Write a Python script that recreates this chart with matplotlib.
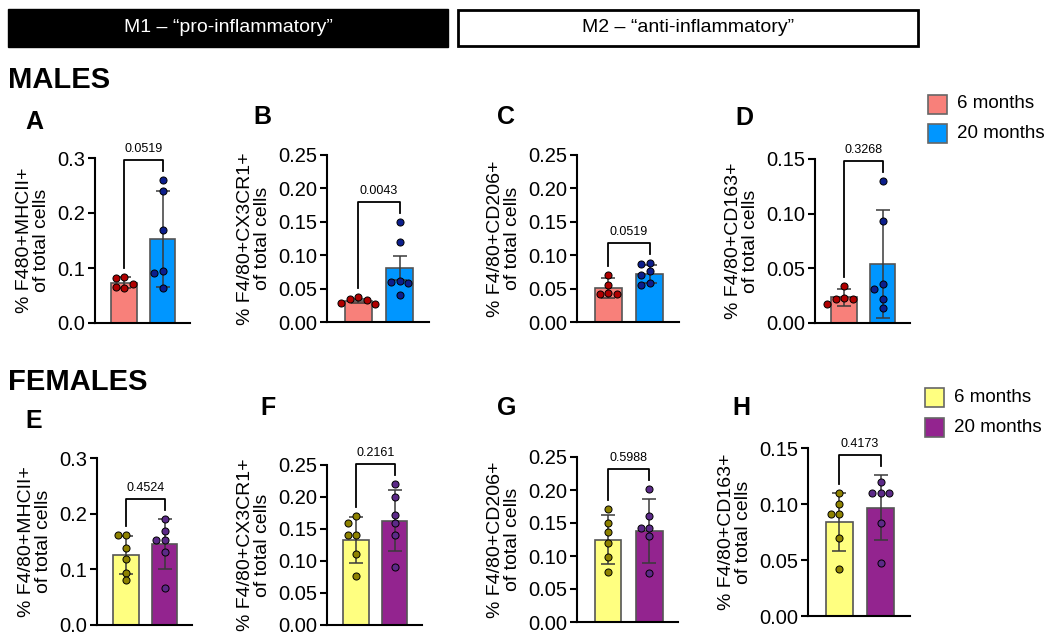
import numpy as np
import matplotlib
matplotlib.use('Agg')
import matplotlib.pyplot as plt
from matplotlib.patches import Rectangle

plt.rcParams['font.family'] = ['Liberation Sans', 'DejaVu Sans']

# datos (A-D machos, E-H hembras)
letras = ['A', 'B', 'C', 'D', 'E', 'F', 'G', 'H']
etiquetas_y = [
    '% F480+MHCII+\nof total cells',
    '% F4/80+CX3CR1+\nof total cells',
    '% F4/80+CD206+\nof total cells',
    '% F4/80+CD163+\nof total cells',
    '% F4/80+MHCII+\nof total cells',
    '% F4/80+CX3CR1+\nof total cells',
    '% F4/80+CD206+\nof total cells',
    '% F4/80+CD163+\nof total cells',
]
y_max = [0.3, 0.25, 0.25, 0.15, 0.3, 0.25, 0.25, 0.15]
y_paso = [0.1, 0.05, 0.05, 0.05, 0.1, 0.05, 0.05, 0.05]
p_valores = ['0.0519', '0.0043', '0.0519', '0.3268', '0.4524', '0.2161', '0.5988', '0.4173']

puntos_6m = [
    [0.083, 0.081, 0.071, 0.064, 0.066],
    [0.038, 0.034, 0.033, 0.029, 0.027],
    [0.070, 0.056, 0.043, 0.042, 0.042],
    [0.034, 0.023, 0.022, 0.022, 0.017],
    [0.161, 0.161, 0.138, 0.118, 0.094, 0.080],
    [0.170, 0.160, 0.141, 0.141, 0.111, 0.076],
    [0.171, 0.150, 0.136, 0.120, 0.098, 0.076],
    [0.110, 0.100, 0.091, 0.091, 0.070, 0.042],
]
puntos_20m = [
    [0.260, 0.240, 0.170, 0.095, 0.091, 0.064],
    [0.150, 0.120, 0.061, 0.060, 0.058, 0.041],
    [0.089, 0.087, 0.076, 0.070, 0.059, 0.056],
    [0.130, 0.093, 0.036, 0.031, 0.022, 0.014],
    [0.190, 0.168, 0.152, 0.152, 0.132, 0.066],
    [0.220, 0.200, 0.172, 0.160, 0.141, 0.091],
    [0.201, 0.160, 0.142, 0.142, 0.130, 0.075],
    [0.120, 0.110, 0.110, 0.110, 0.083, 0.047],
]
media_6m = [0.073, 0.032, 0.051, 0.0235, 0.125, 0.133, 0.125, 0.084]
media_20m = [0.153, 0.081, 0.072, 0.054, 0.145, 0.163, 0.138, 0.0965]
error_6m = [0.010, 0.003, 0.015, 0.0075, 0.034, 0.036, 0.037, 0.026]
error_20m = [0.087, 0.018, 0.014, 0.049, 0.045, 0.048, 0.048, 0.029]

leyenda = ['6 months', '20 months']

# colores
barra_m = ['#F8807A', '#0096FF']
punto_m = ['#B00000', '#0C1E8C']
barra_h = ['#FFFF80', '#93248F']
punto_h = ['#8E8200', '#5C2A88']

W, H = 1050, 640
# cajas de ejes en pixeles (x0, y_arriba, x1, y_abajo)
cajas = [
    (95, 158, 190, 323), (327, 155, 429, 322), (577, 155, 679, 322), (815, 159, 910, 323),
    (97, 458, 192, 625), (327, 465, 422, 625), (577, 457, 678, 622), (808, 448, 910, 616),
]
pos_letras = [(34, 122), (262, 117), (506, 117), (744, 118),
              (34, 421), (268, 408), (507, 408), (741, 408)]

fig = plt.figure(figsize=(W / 100, H / 100), dpi=100)


def swarm(valores, centro, esc_x, esc_y, d=8.5):
    # reparte los puntos a lo ancho para que no se encimen (en pixeles)
    colocados = []
    xs = []
    for v in valores:
        y = v * esc_y
        for k in [0, -1, 1, -2, 2]:
            x = k * d
            if all((x - px) ** 2 + (y - py) ** 2 >= 0.8 * d * d for px, py in colocados):
                break
        colocados.append((x, y))
        xs.append(centro + x / esc_x)
    return xs


# encabezados
fig.add_artist(Rectangle((8 / W, 1 - 47 / H), 440 / W, 38 / H, transform=fig.transFigure,
                         facecolor='black', edgecolor='black'))
fig.add_artist(Rectangle((458 / W, 1 - 46 / H), 460 / W, 36 / H, transform=fig.transFigure,
                         facecolor='white', edgecolor='black', linewidth=2))
fig.text(228 / W, 1 - 28 / H, 'M1 – “pro-inflammatory”', color='white', fontsize=14,
         ha='center', va='center')
fig.text(688 / W, 1 - 28 / H, 'M2 – “anti-inflammatory”', color='black', fontsize=14,
         ha='center', va='center')
fig.text(8 / W, 1 - 80 / H, 'MALES', fontsize=21, fontweight='bold', va='center')
fig.text(8 / W, 1 - 382 / H, 'FEMALES', fontsize=21, fontweight='bold', va='center')

xlim = (-0.75, 1.7)
for i in range(8):
    x0, y0, x1, y1 = cajas[i]
    ax = fig.add_axes([x0 / W, 1 - y1 / H, (x1 - x0) / W, (y1 - y0) / H])
    cb = barra_m if i < 4 else barra_h
    cp = punto_m if i < 4 else punto_h

    esc_x = (x1 - x0) / (xlim[1] - xlim[0])
    esc_y = (y1 - y0) / y_max[i]

    medias = [media_6m[i], media_20m[i]]
    errores = [error_6m[i], error_20m[i]]
    ax.bar([0, 1], medias, width=0.65, color=cb, edgecolor='#555555', linewidth=1.2, zorder=1)
    ax.errorbar([0, 1], medias, yerr=errores, fmt='none', ecolor='#3a3a3a',
                elinewidth=1.1, capsize=5, capthick=1.1, zorder=2)

    for j, pts in enumerate([puntos_6m[i], puntos_20m[i]]):
        xs = swarm(pts, j, esc_x, esc_y)
        ax.scatter(xs, pts, s=26, color=cp[j], edgecolor='black', linewidth=0.7,
                   zorder=3, clip_on=False)

    # corchete con p
    tope0 = max(max(puntos_6m[i]), media_6m[i] + error_6m[i])
    tope1 = max(max(puntos_20m[i]), media_20m[i] + error_20m[i])
    yb = max(tope0, tope1) + 20 / esc_y
    ax.plot([0, 0, 1, 1], [tope0 + 9 / esc_y, yb, yb, tope1 + 9 / esc_y],
            color='black', linewidth=1.3, clip_on=False)
    ax.text(0.5, yb + 5 / esc_y, p_valores[i], ha='center', va='bottom', fontsize=9)

    ax.set_xlim(*xlim)
    ax.set_ylim(0, y_max[i])
    ticks = np.arange(0, y_max[i] + y_paso[i] / 2, y_paso[i])
    dec = 1 if y_paso[i] >= 0.1 else 2
    ax.set_yticks(ticks)
    ax.set_yticklabels([f'{t:.{dec}f}' for t in ticks], fontsize=14.5)
    ax.set_xticks([])
    ax.spines['top'].set_visible(False)
    ax.spines['right'].set_visible(False)
    ax.spines['left'].set_linewidth(1.5)
    ax.spines['bottom'].set_linewidth(1.5)
    ax.tick_params(axis='y', width=1.5, length=5, pad=2)
    ax.set_ylabel(etiquetas_y[i], fontsize=14, labelpad=5, linespacing=1.0)

    lx, ly = pos_letras[i]
    fig.text(lx / W, 1 - ly / H, letras[i], fontsize=18, fontweight='bold',
             ha='center', va='center')


def bloque_leyenda(x, ys, colores):
    for yc, c, lab in zip(ys, colores, leyenda):
        fig.add_artist(Rectangle((x / W, 1 - (yc + 9.5) / H), 19 / W, 19 / H,
                                 transform=fig.transFigure, facecolor=c,
                                 edgecolor='#666666', linewidth=1.2))
        fig.text((x + 29) / W, 1 - yc / H, lab, fontsize=13.5, va='center')


bloque_leyenda(928, [104, 133], barra_m)
bloque_leyenda(925, [397, 427], barra_h)

fig.savefig('out.png', dpi=100)
